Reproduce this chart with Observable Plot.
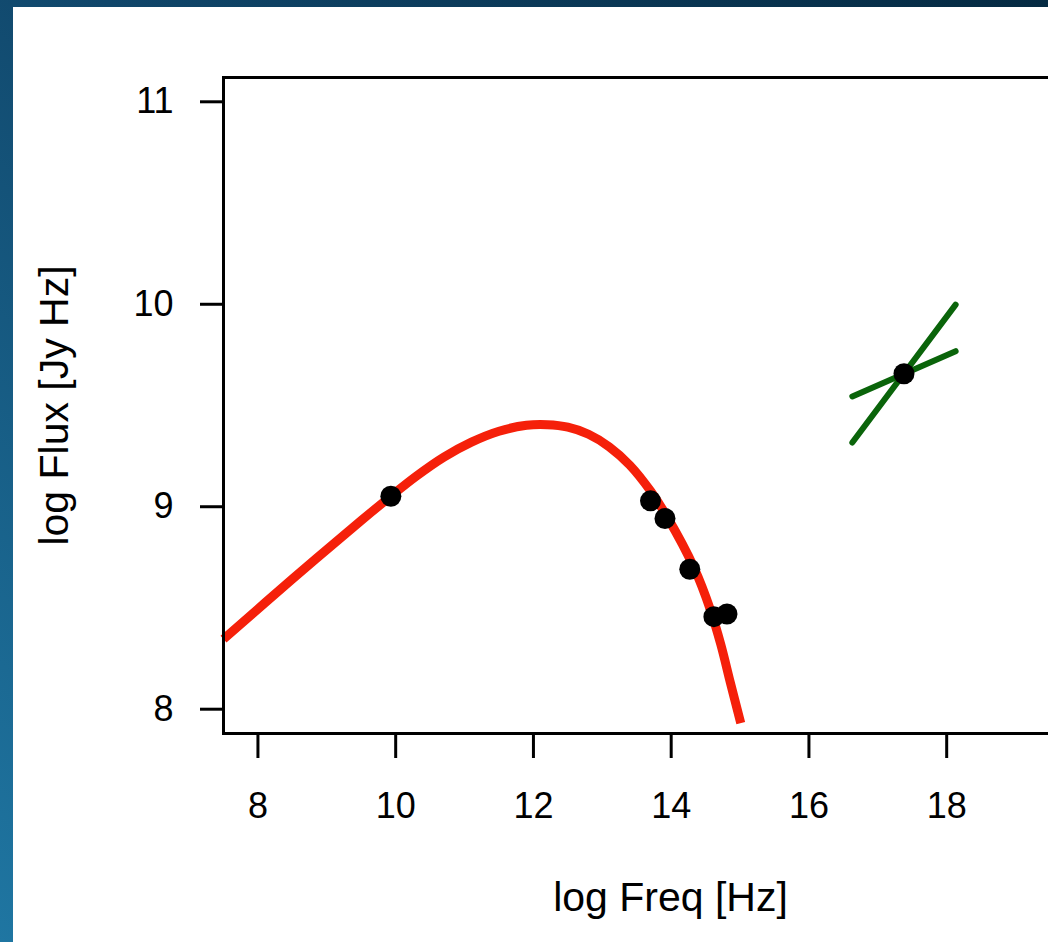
<!DOCTYPE html>
<html>
<head>
<meta charset="utf-8">
<script src="https://cdn.jsdelivr.net/npm/d3@7"></script>
<script src="https://cdn.jsdelivr.net/npm/@observablehq/plot@0.6"></script>
<style>
  html, body { margin: 0; padding: 0; width: 1048px; height: 942px; overflow: hidden; }
  body { position: relative; background: linear-gradient(to bottom left, #052a42 0%, #10466a 45%, #1f76a2 100%); font-family: "Liberation Sans", Arial, Helvetica, sans-serif; }
  #panel { position: absolute; left: 13px; top: 7px; right: 0; bottom: 0; background: #ffffff; }
  #chart { position: absolute; left: 0; top: 0; width: 1130px; height: 942px; }
  #chart svg { background: transparent; overflow: visible; max-width: none !important; width: 1130px; height: 942px; }
</style>
</head>
<body>
<div id="panel"></div>
<div id="chart"></div>
<script>
// Model curve (red)
const curveLogFreq = [7.50, 8.50, 9.50, 9.93, 10.30, 10.70, 11.10, 11.50, 11.90, 12.20, 12.50, 12.80, 13.10, 13.40, 13.70, 13.95, 14.33, 14.57, 14.72, 14.86, 15.01];
const curveLogFlux = [8.346, 8.643, 8.932, 9.052, 9.151, 9.245, 9.319, 9.373, 9.402, 9.405, 9.393, 9.358, 9.296, 9.205, 9.078, 8.945, 8.700, 8.490, 8.320, 8.130, 7.931];

// Observed points (black)
const obsLogFreq = [9.93, 13.70, 13.91, 14.27, 14.62, 14.81, 17.38];
const obsLogFlux = [9.052, 9.029, 8.942, 8.691, 8.457, 8.470, 9.657];

// X-ray bowtie (green): two lines
const bowX1 = [16.63, 16.63];
const bowY1 = [9.317, 9.545];
const bowX2 = [18.13, 18.13];
const bowY2 = [9.998, 9.768];

// Axis ticks and labels
const xTicks = [8, 10, 12, 14, 16, 18];
const yTicks = [8, 9, 10, 11];
const xLabel = "log Freq [Hz]";
const yLabel = "log Flux [Jy Hz]";

const font = "'Liberation Sans', Arial, Helvetica, sans-serif";

const chart = Plot.plot({
  width: 1130,
  height: 942,
  marginLeft: 223,
  marginTop: 77,
  marginBottom: 209,
  marginRight: 13,
  style: { fontFamily: font, background: "transparent", color: "#000", maxWidth: "none" },
  x: { domain: [7.5, 20.48] },
  y: { domain: [7.88, 11.12] },
  marks: [
    Plot.line(curveLogFreq, {
      x: d => d, y: (d, i) => curveLogFlux[i],
      stroke: "#f5200a", strokeWidth: 9, curve: "catmull-rom", strokeLinecap: "butt"
    }),
    Plot.link(bowX1, {
      x1: d => d, y1: (d, i) => bowY1[i], x2: (d, i) => bowX2[i], y2: (d, i) => bowY2[i],
      stroke: "#0a640a", strokeWidth: 6, strokeLinecap: "round"
    }),
    Plot.dot(obsLogFreq, {
      x: d => d, y: (d, i) => obsLogFlux[i], r: 10.5, fill: "#000", stroke: "none"
    }),
    Plot.frame({ stroke: "#000", strokeWidth: 3 }),
    Plot.axisX({ ticks: xTicks, tickSize: 25, tickPadding: 34, fontSize: 36, strokeWidth: 3, label: null, tickFormat: d => String(d) }),
    Plot.axisY({ ticks: yTicks, tickSize: 23, tickPadding: 27, fontSize: 36, strokeWidth: 3, label: null, tickFormat: d => String(d) }),
    Plot.text([xLabel], { frameAnchor: "bottom", dy: 164, fontSize: 41, text: d => d, textAnchor: "middle", lineAnchor: "middle", fill: "#000" }),
    Plot.text([yLabel], { frameAnchor: "left", dx: -169, rotate: -90, fontSize: 41, text: d => d, textAnchor: "middle", lineAnchor: "middle", fill: "#000" })
  ]
});
document.getElementById("chart").appendChild(chart);
</script>
</body>
</html>
